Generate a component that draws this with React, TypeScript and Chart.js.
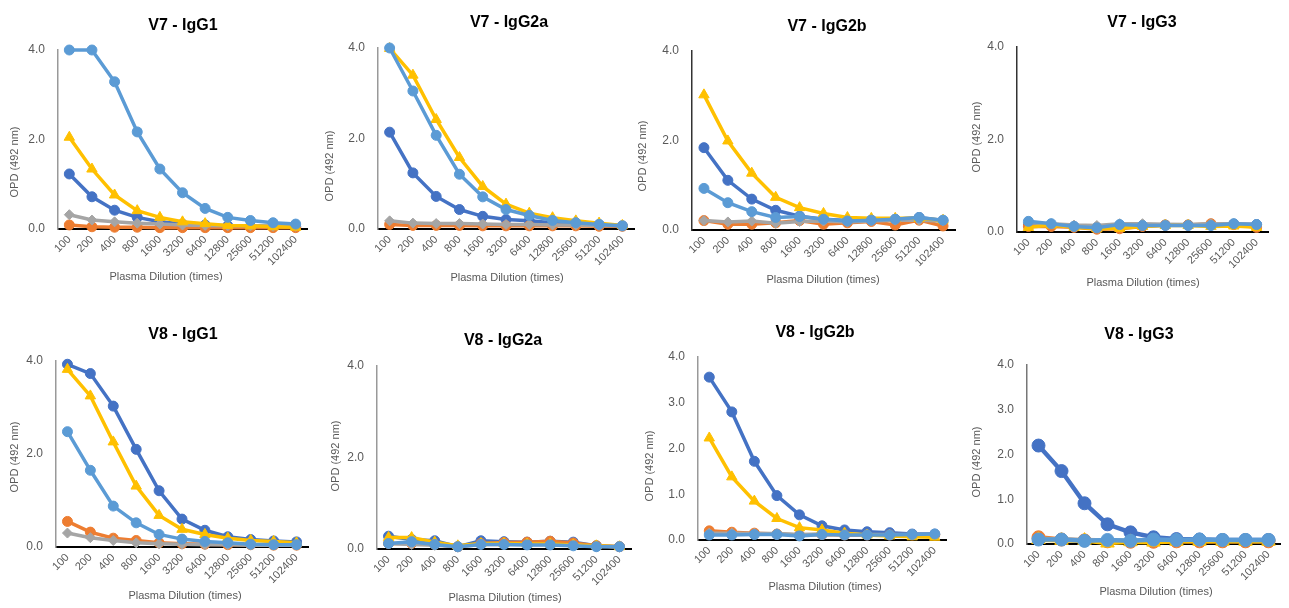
import React, { useEffect, useRef } from "react";
import { Chart, registerables } from "chart.js";

Chart.register(...registerables);

// ---------- DATA ----------
const dilutions = ["100", "200", "400", "800", "1600", "3200", "6400", "12800", "25600", "51200", "102400"];

const seriesColors = ["#4472C4", "#ED7D31", "#A5A5A5", "#FFC000", "#5B9BD5"];
const seriesMarkers = ["circle", "circle", "rectRot", "triangle", "circle"];

// each panel: 5 series (dark blue, orange, gray, yellow, light blue), OPD values per dilution
const v7IgG1 = [
  [1.23, 0.72, 0.42, 0.26, 0.16, 0.11, 0.09, 0.07, 0.06, 0.06, 0.05],
  [0.09, 0.05, 0.04, 0.04, 0.03, 0.03, 0.03, 0.03, 0.03, 0.03, 0.03],
  [0.32, 0.2, 0.16, 0.13, 0.11, 0.09, 0.08, 0.07, 0.07, 0.06, 0.06],
  [2.05, 1.34, 0.76, 0.41, 0.26, 0.16, 0.12, 0.08, 0.07, 0.05, 0.04],
  [4.0, 4.0, 3.29, 2.17, 1.34, 0.81, 0.46, 0.26, 0.19, 0.14, 0.11],
];
const v7IgG2a = [
  [2.14, 1.24, 0.72, 0.43, 0.28, 0.21, 0.18, 0.14, 0.12, 0.1, 0.07],
  [0.1, 0.08, 0.08, 0.08, 0.07, 0.07, 0.07, 0.07, 0.07, 0.06, 0.06],
  [0.18, 0.13, 0.12, 0.12, 0.11, 0.1, 0.1, 0.09, 0.09, 0.08, 0.07],
  [3.99, 3.4, 2.42, 1.58, 0.94, 0.55, 0.35, 0.25, 0.18, 0.13, 0.08],
  [4.0, 3.05, 2.07, 1.21, 0.71, 0.43, 0.3, 0.19, 0.14, 0.1, 0.07],
];
const v7IgG2b = [
  [1.84, 1.11, 0.69, 0.44, 0.31, 0.24, 0.21, 0.22, 0.24, 0.28, 0.21],
  [0.21, 0.13, 0.13, 0.16, 0.21, 0.13, 0.16, 0.19, 0.11, 0.22, 0.09],
  [0.21, 0.18, 0.2, 0.15, 0.19, 0.2, 0.18, 0.2, 0.22, 0.22, 0.2],
  [3.02, 1.99, 1.27, 0.73, 0.5, 0.37, 0.28, 0.26, 0.26, 0.26, 0.22],
  [0.93, 0.61, 0.41, 0.28, 0.3, 0.24, 0.2, 0.22, 0.24, 0.28, 0.22],
];
const v7IgG3 = [
  [0.15, 0.14, 0.12, 0.1, 0.14, 0.14, 0.15, 0.15, 0.15, 0.17, 0.16],
  [0.12, 0.12, 0.1, 0.06, 0.07, 0.12, 0.15, 0.15, 0.18, 0.16, 0.1],
  [0.2, 0.18, 0.15, 0.14, 0.18, 0.18, 0.17, 0.16, 0.18, 0.18, 0.17],
  [0.1, 0.15, 0.1, 0.07, 0.08, 0.12, 0.14, 0.14, 0.12, 0.13, 0.1],
  [0.23, 0.18, 0.12, 0.09, 0.16, 0.14, 0.14, 0.14, 0.14, 0.18, 0.16],
];
const v8IgG1 = [
  [3.93, 3.73, 3.03, 2.1, 1.21, 0.6, 0.36, 0.22, 0.16, 0.13, 0.11],
  [0.55, 0.32, 0.19, 0.14, 0.09, 0.07, 0.06, 0.05, 0.05, 0.04, 0.04],
  [0.3, 0.2, 0.14, 0.09, 0.07, 0.06, 0.05, 0.05, 0.04, 0.04, 0.04],
  [3.82, 3.25, 2.26, 1.31, 0.68, 0.38, 0.27, 0.19, 0.14, 0.12, 0.09],
  [2.48, 1.65, 0.88, 0.52, 0.27, 0.17, 0.12, 0.09, 0.06, 0.05, 0.05],
];
const v8IgG2a = [
  [0.28, 0.21, 0.18, 0.05, 0.18, 0.16, 0.15, 0.17, 0.15, 0.07, 0.05],
  [0.12, 0.12, 0.1, 0.05, 0.12, 0.14, 0.15, 0.17, 0.13, 0.07, 0.05],
  [0.12, 0.1, 0.08, 0.05, 0.1, 0.1, 0.1, 0.1, 0.09, 0.06, 0.05],
  [0.25, 0.25, 0.15, 0.07, 0.12, 0.12, 0.11, 0.11, 0.09, 0.07, 0.05],
  [0.12, 0.16, 0.1, 0.05, 0.1, 0.1, 0.09, 0.09, 0.07, 0.05, 0.05],
];
const v8IgG2b = [
  [3.56, 2.8, 1.72, 0.97, 0.55, 0.31, 0.22, 0.18, 0.16, 0.13, 0.13],
  [0.2, 0.17, 0.15, 0.13, 0.11, 0.12, 0.11, 0.11, 0.11, 0.11, 0.11],
  [0.15, 0.15, 0.14, 0.14, 0.12, 0.13, 0.12, 0.12, 0.12, 0.12, 0.12],
  [2.23, 1.38, 0.85, 0.47, 0.27, 0.22, 0.15, 0.11, 0.09, 0.07, 0.06],
  [0.11, 0.11, 0.12, 0.12, 0.09, 0.12, 0.11, 0.11, 0.11, 0.12, 0.13],
];
const v8IgG3 = [
  [2.2, 1.63, 0.91, 0.44, 0.26, 0.15, 0.11, 0.1, 0.09, 0.09, 0.09],
  [0.15, 0.1, 0.08, 0.06, 0.05, 0.05, 0.06, 0.06, 0.06, 0.06, 0.06],
  [0.12, 0.1, 0.09, 0.08, 0.08, 0.08, 0.08, 0.08, 0.08, 0.08, 0.08],
  [0.1, 0.08, 0.08, 0.02, 0.05, 0.04, 0.06, 0.06, 0.06, 0.06, 0.06],
  [0.1, 0.1, 0.07, 0.09, 0.07, 0.1, 0.09, 0.1, 0.09, 0.09, 0.09],
];

const yTitle = "OPD (492 nm)";
const xTitle = "Plasma Dilution (times)";

// ---------- LAYOUT ----------
type PanelCfg = {
  title: string;
  data: number[][];
  yStep: number;
  x0: number; x1: number; y4: number; y0: number;
  tx: number; ty: number;
  ylx: number; yly: number;
  xlx: number; xly: number;
  r: number; lw: number;
  yAxisColor: string;
};

const panels: PanelCfg[] = [
  { title: "V7 - IgG1", data: v7IgG1, yStep: 2, x0: 58, x1: 307, y4: 50, y0: 229, tx: 183, ty: 26, ylx: 15, yly: 162, xlx: 166, xly: 277, r: 5, lw: 3.5, yAxisColor: "#999999" },
  { title: "V7 - IgG2a", data: v7IgG2a, yStep: 2, x0: 378, x1: 634, y4: 48, y0: 229, tx: 509, ty: 23, ylx: 330, yly: 166, xlx: 507, xly: 278, r: 5, lw: 3.5, yAxisColor: "#999999" },
  { title: "V7 - IgG2b", data: v7IgG2b, yStep: 2, x0: 692, x1: 955, y4: 51, y0: 230, tx: 827, ty: 27, ylx: 643, yly: 156, xlx: 823, xly: 280, r: 5, lw: 3.5, yAxisColor: "#333333" },
  { title: "V7 - IgG3", data: v7IgG3, yStep: 2, x0: 1017, x1: 1268, y4: 47, y0: 232, tx: 1142, ty: 23, ylx: 977, yly: 137, xlx: 1143, xly: 283, r: 5, lw: 3.5, yAxisColor: "#333333" },
  { title: "V8 - IgG1", data: v8IgG1, yStep: 2, x0: 56, x1: 308, y4: 361, y0: 547, tx: 183, ty: 335, ylx: 15, yly: 457, xlx: 185, xly: 596, r: 5, lw: 3.5, yAxisColor: "#999999" },
  { title: "V8 - IgG2a", data: v8IgG2a, yStep: 2, x0: 377, x1: 631, y4: 366, y0: 549, tx: 503, ty: 341, ylx: 336, yly: 456, xlx: 505, xly: 598, r: 5, lw: 3.5, yAxisColor: "#999999" },
  { title: "V8 - IgG2b", data: v8IgG2b, yStep: 1, x0: 698, x1: 946, y4: 357, y0: 540, tx: 815, ty: 333, ylx: 650, yly: 466, xlx: 825, xly: 587, r: 5, lw: 3.5, yAxisColor: "#999999" },
  { title: "V8 - IgG3", data: v8IgG3, yStep: 1, x0: 1027, x1: 1280, y4: 365, y0: 544, tx: 1139, ty: 335, ylx: 977, yly: 462, xlx: 1156, xly: 592, r: 6.5, lw: 4.5, yAxisColor: "#777777" },
];

const W = 1289;
const H = 608;
const Y_AXIS_W = 40;
const X_AXIS_H = 40;
const FONT = '"Liberation Sans", Arial, Helvetica, sans-serif';

function Panel({ cfg }: { cfg: PanelCfg }) {
  const ref = useRef<HTMLCanvasElement>(null);

  useEffect(() => {
    const canvas = ref.current;
    if (!canvas) return;

    const textPlugin = {
      id: "panelText",
      afterDraw(chart: any) {
        const ctx = chart.ctx as CanvasRenderingContext2D;
        ctx.save();
        ctx.textAlign = "center";
        ctx.textBaseline = "middle";
        ctx.fillStyle = "#000000";
        ctx.font = `bold 16px ${FONT}`;
        ctx.fillText(cfg.title, cfg.tx, cfg.ty);
        ctx.fillStyle = "#595959";
        ctx.font = `11px ${FONT}`;
        ctx.fillText(xTitle, cfg.xlx, cfg.xly);
        ctx.translate(cfg.ylx, cfg.yly);
        ctx.rotate(-Math.PI / 2);
        ctx.fillText(yTitle, 0, 0);
        ctx.restore();
      },
    };

    const chart = new Chart(canvas, {
      type: "line",
      data: {
        labels: dilutions,
        datasets: cfg.data.map((vals, i) => ({
          label: `Series ${i + 1}`,
          data: vals,
          borderColor: seriesColors[i],
          backgroundColor: seriesColors[i],
          pointBackgroundColor: seriesColors[i],
          pointBorderColor: seriesColors[i],
          pointStyle: seriesMarkers[i] as any,
          pointRadius: i === 3 ? cfg.r * 1.2 : cfg.r,
          pointBorderWidth: 1,
          borderWidth: cfg.lw,
          tension: 0,
          fill: false,
          clip: false as any,
          order: 4 - i,
        })),
      },
      options: {
        responsive: false,
        animation: false,
        devicePixelRatio: 1,
        events: [],
        layout: {
          padding: {
            left: cfg.x0 - Y_AXIS_W,
            right: W - cfg.x1,
            top: cfg.y4,
            bottom: H - cfg.y0 - X_AXIS_H,
          },
        },
        plugins: {
          legend: { display: false },
          tooltip: { enabled: false },
          title: { display: false },
        },
        scales: {
          x: {
            type: "category",
            offset: true,
            grid: { display: false, drawTicks: false },
            border: { display: true, color: "#000000", width: 2 },
            ticks: {
              autoSkip: false,
              maxRotation: 45,
              minRotation: 45,
              padding: 4,
              color: "#595959",
              font: { size: 11, family: FONT },
            },
            afterFit: (s: any) => {
              s.height = X_AXIS_H;
            },
          },
          y: {
            min: 0,
            max: 4,
            grid: { display: false, drawTicks: false },
            border: { display: true, color: cfg.yAxisColor, width: 1.5 },
            ticks: {
              stepSize: cfg.yStep,
              padding: 13,
              color: "#595959",
              font: { size: 12, family: FONT },
              callback: (v: any) => Number(v).toFixed(1),
            },
            afterFit: (s: any) => {
              s.width = Y_AXIS_W;
            },
          },
        },
      },
      plugins: [textPlugin],
    });

    return () => chart.destroy();
  }, [cfg]);

  return (
    <canvas
      ref={ref}
      width={W}
      height={H}
      style={{ position: "absolute", left: 0, top: 0, width: W, height: H }}
    />
  );
}

export default function App() {
  return (
    <div style={{ position: "absolute", left: 0, top: 0, width: W, height: H, background: "#ffffff", overflow: "hidden" }}>
      {panels.map((p) => (
        <Panel key={p.title} cfg={p} />
      ))}
    </div>
  );
}
